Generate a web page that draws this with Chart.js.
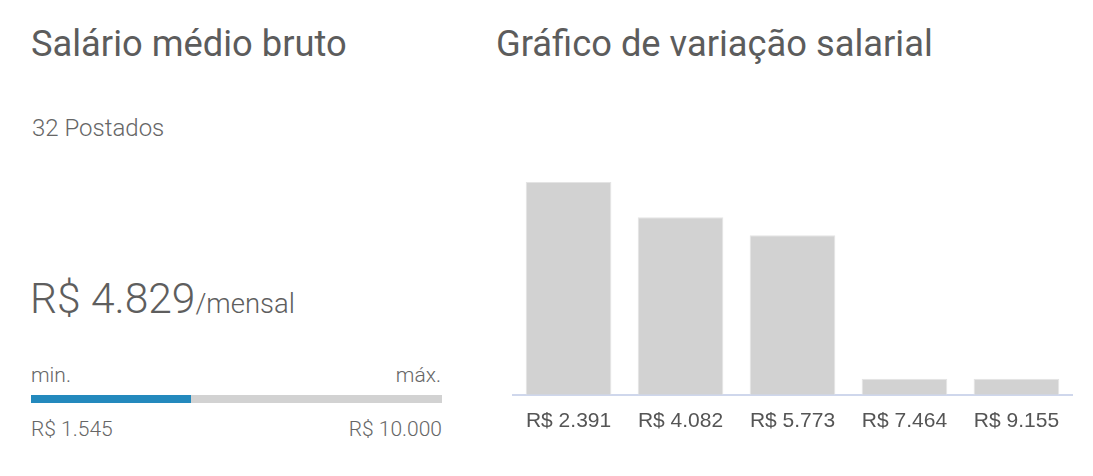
<!DOCTYPE html>
<html>
<head>
<meta charset="utf-8">
<script src="https://cdn.jsdelivr.net/npm/chart.js@4/dist/chart.umd.min.js"></script>
<style>
  html, body { margin: 0; padding: 0; background: #fff; }
  body { width: 1093px; height: 476px; position: relative; overflow: hidden; font-family: Roboto, "Noto Sans", sans-serif; color: #5e5e5e; }
  .abs { position: absolute; white-space: nowrap; line-height: 1; }
  .title { font-size: 36.3px; font-weight: 400; color: #5c5c5c; }
  .light { font-weight: 300; }
  #wrap { position: absolute; left: 512px; top: 170px; width: 561px; height: 278px; }
</style>
</head>
<body>
  <div class="abs title" style="left:31px; top:26px;">Salário médio bruto</div>
  <div class="abs light" style="left:32px; top:116px; font-size:24px; color:#666;">32 Postados</div>
  <div class="abs light" style="left:30px; top:278px; font-size:42.5px; color:#5e5e5e;">R$ 4.829<span style="font-size:27.5px;">/mensal</span></div>
  <div class="abs light" style="left:31px; top:365px; font-size:21px; color:#666;">min.</div>
  <div class="abs light" style="left:341px; width:100px; text-align:right; top:365px; font-size:21px; color:#666;">máx.</div>
  <div class="abs" style="left:31px; top:395px; width:411px; height:8px; background:#d2d2d2;"></div>
  <div class="abs" style="left:31px; top:395px; width:160px; height:8px; background:#2389bd;"></div>
  <div class="abs light" style="left:31px; top:419px; font-size:21px; color:#666;">R$ 1.545</div>
  <div class="abs light" style="left:281px; width:161px; text-align:right; top:419px; font-size:21px; color:#666;">R$ 10.000</div>

  <div class="abs title" style="left:496px; top:26px;">Gráfico de variação salarial</div>
  <div id="wrap"><canvas id="c"></canvas></div>

<script>
const categories = ["R$ 2.391", "R$ 4.082", "R$ 5.773", "R$ 7.464", "R$ 9.155"];
const postCounts = [13.25, 11.06, 9.94, 1, 1];
const yMax = 14;

new Chart(document.getElementById('c'), {
  type: 'bar',
  data: {
    labels: categories,
    datasets: [{
      data: postCounts,
      backgroundColor: '#d2d2d2',
      borderColor: '#e4e4e4',
      borderWidth: 1,
      categoryPercentage: 0.9,
      barPercentage: 0.85
    }]
  },
  options: {
    responsive: true,
    maintainAspectRatio: false,
    animation: false,
    layout: { padding: 0 },
    plugins: { legend: { display: false }, tooltip: { enabled: false } },
    scales: {
      y: { display: false, min: 0, max: yMax },
      x: {
        grid: { display: false, drawTicks: false },
        border: { display: true, color: '#cfd7ec', width: 2 },
        ticks: {
          padding: 14,
          color: '#555',
          font: { family: '"Liberation Sans", Arial, sans-serif', size: 21 }
        }
      }
    }
  }
});
</script>
</body>
</html>
